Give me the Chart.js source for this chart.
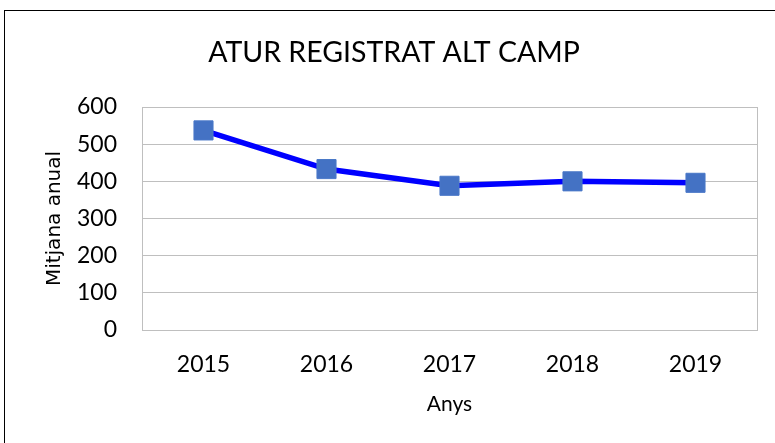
<!DOCTYPE html>
<html>
<head>
<meta charset="utf-8">
<script src="https://cdn.jsdelivr.net/npm/chart.js@4.4.1/dist/chart.umd.min.js"></script>
<style>
  html, body { margin: 0; padding: 0; background: #fff; }
  #wrap { position: relative; width: 775px; height: 443px; overflow: hidden; }
  #frame { position: absolute; left: 4px; top: 10px; width: 900px; height: 600px; border: 1px solid #000; box-sizing: border-box; }
  #chart { position: absolute; left: 0; top: 0; }
</style>
</head>
<body>
<div id="wrap">
  <div id="frame"></div>
  <canvas id="chart" width="775" height="443"></canvas>
</div>
<script>
const years = ["2015", "2016", "2017", "2018", "2019"];
const atur = [537, 433, 388, 400, 396];
const yTicks = [0, 100, 200, 300, 400, 500, 600];

const FONT = "Lato, 'Open Sans', sans-serif";

// box around the plot area, like the spreadsheet one
const plotBox = {
  id: "plotBox",
  beforeDatasetsDraw(chart) {
    const a = chart.chartArea;
    const ctx = chart.ctx;
    ctx.save();
    ctx.strokeStyle = "#bfbfbf";
    ctx.lineWidth = 1;
    ctx.strokeRect(a.left + 0.5, a.top + 0.5, a.right - a.left, a.bottom - a.top);
    ctx.restore();
  }
};

const ctx = document.getElementById("chart").getContext("2d");
const chart = new Chart(ctx, {
  type: "line",
  data: {
    labels: years,
    datasets: [{
      label: "Mitjana anual",
      data: atur,
      borderColor: "#0000ff",
      borderWidth: 5.5,
      tension: 0,
      pointStyle: "rect",
      pointRadius: 13.5,
      pointHoverRadius: 13.5,
      pointBackgroundColor: "#4472c4",
      pointBorderColor: "#4a78c8",
      pointBorderWidth: 1
    }]
  },
  options: {
    responsive: false,
    animation: false,
    layout: { padding: { left: 31, right: 18, top: 0, bottom: 0 } },
    plugins: {
      legend: { display: false },
      tooltip: { enabled: false },
      title: {
        display: true,
        text: "ATUR REGISTRAT ALT CAMP",
        color: "#000",
        font: { family: FONT, size: 28.5, weight: "normal" },
        padding: { top: 35.7, bottom: 37.1 }
      }
    },
    scales: {
      x: {
        offset: true,
        grid: { display: false, drawTicks: false },
        border: { display: true, color: "#bfbfbf" },
        ticks: { color: "#000", padding: 21, font: { family: FONT, size: 23 } },
        title: {
          display: true,
          text: "Anys",
          color: "#000",
          font: { family: FONT, size: 21 },
          padding: { top: 0, bottom: 26 }
        },
        afterFit(scale) { scale.height = 113; }
      },
      y: {
        min: 0,
        max: 600,
        afterBuildTicks(scale) { scale.ticks = yTicks.map(v => ({ value: v })); },
        grid: { color: "#bfbfbf", drawTicks: false },
        border: { display: true, color: "#bfbfbf" },
        ticks: { color: "#000", padding: 25, font: { family: FONT, size: 23 } },
        title: {
          display: true,
          text: "Mitjana anual",
          color: "#000",
          font: { family: "'DejaVu Sans', sans-serif", size: 20 },
          padding: { top: 12, bottom: 0 }
        },
        afterFit(scale) { scale.width = 111; }
      }
    }
  },
  plugins: [plotBox]
});
</script>
</body>
</html>
